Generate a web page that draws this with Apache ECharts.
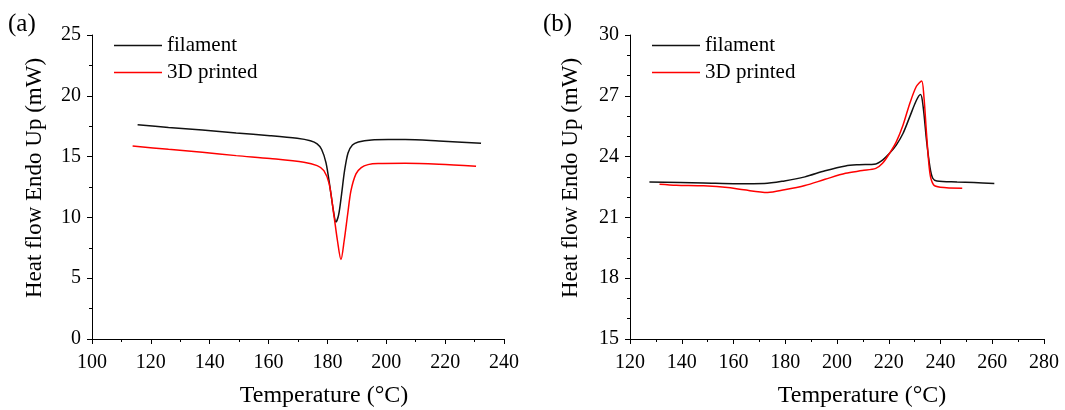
<!DOCTYPE html>
<html>
<head>
<meta charset="utf-8">
<script src="https://cdn.jsdelivr.net/npm/echarts@6/dist/echarts.min.js"></script>
<style>html,body{margin:0;padding:0;background:#fff}#c{width:1065px;height:410px}</style>
</head>
<body>
<div id="c"></div>
<script>
// Panel (a)
const aFilamentT = [115.5, 126, 137.5, 149, 160.5, 169.7, 174.2, 176.5, 178, 179.5, 180.8, 182, 182.9, 183.8, 184.8, 185.8, 187, 188.5, 190.5, 195, 200.6, 206.4, 217.9, 232.2];
const aFilamentV = [17.62, 17.4, 17.18, 16.94, 16.72, 16.5, 16.3, 16.05, 15.6, 14.5, 12.6, 10.6, 9.62, 10.2, 11.9, 13.8, 15.3, 15.95, 16.2, 16.37, 16.4, 16.4, 16.28, 16.09];
const aPrintedT = [113.8, 126, 137.5, 149, 160.5, 172, 176.5, 178.8, 180.6, 182.3, 183.4, 184.6, 185.7, 186.9, 188, 189.7, 191.5, 193.8, 197.2, 206.4, 217.9, 230.5];
const aPrintedV = [15.87, 15.6, 15.36, 15.08, 14.84, 14.54, 14.26, 13.85, 12.76, 10.0, 8.1, 6.53, 8.1, 10.3, 12.2, 13.58, 14.1, 14.34, 14.43, 14.45, 14.37, 14.2];
// Panel (b)
const bFilamentT = [127.5, 148.4, 161.4, 171.9, 179.7, 187.6, 195.4, 203.3, 208.5, 215, 217.6, 220.3, 222.9, 225.5, 228.1, 230.7, 232.3, 233.3, 234.6, 235.9, 237, 238.6, 246.4, 252.9, 260.8];
const bFilamentV = [22.75, 22.7, 22.66, 22.67, 22.8, 23.0, 23.3, 23.54, 23.6, 23.64, 23.83, 24.16, 24.57, 25.14, 25.96, 26.78, 27.06, 26.45, 24.8, 23.5, 22.93, 22.8, 22.75, 22.72, 22.67];
const bPrintedT = [131.4, 137.9, 148.4, 158.8, 164, 173.2, 179.7, 187.6, 195.4, 203.3, 209.8, 215, 217.6, 220.3, 222.9, 225.5, 228.1, 230.7, 232.7, 233.6, 234.6, 235.9, 237.3, 239.9, 248.4];
const bPrintedV = [22.64, 22.59, 22.56, 22.46, 22.36, 22.23, 22.36, 22.57, 22.88, 23.18, 23.31, 23.42, 23.67, 24.16, 24.73, 25.55, 26.61, 27.47, 27.73, 26.94, 25.14, 23.18, 22.61, 22.49, 22.44];

const seriesNames = ['filament', '3D printed'];
const panelLabels = ['(a)', '(b)'];
const xTitle = 'Temperature (°C)';
const yTitle = 'Heat flow Endo Up (mW)';

const zip = (t, v) => t.map((x, i) => [x, v[i]]);
const FONT = "'Liberation Serif', 'Times New Roman', serif";

function xAxisCfg(grid, min, max) {
  return {
    type: 'value', gridIndex: grid, min: min, max: max, interval: 20,
    axisLine: { show: true, lineStyle: { color: '#000', width: 1 } },
    axisTick: { show: true, inside: false, length: 5, lineStyle: { color: '#000' } },
    minorTick: { show: true, splitNumber: 2, length: 3, lineStyle: { color: '#000' } },
    splitLine: { show: false },
    axisLabel: { color: '#000', fontFamily: FONT, fontSize: 20, margin: 14 }
  };
}
function yAxisCfg(grid, min, max, interval, minorSplit) {
  return {
    type: 'value', gridIndex: grid, min: min, max: max, interval: interval,
    axisLine: { show: true, lineStyle: { color: '#000', width: 1 } },
    axisTick: { show: true, inside: false, length: 5, lineStyle: { color: '#000' } },
    minorTick: { show: true, splitNumber: minorSplit, length: 3, lineStyle: { color: '#000' } },
    splitLine: { show: false },
    axisLabel: { color: '#000', fontFamily: FONT, fontSize: 20, margin: 11 }
  };
}
function lineSeries(name, xi, data, color) {
  return {
    name: name, type: 'line', xAxisIndex: xi, yAxisIndex: xi, data: data,
    symbol: 'none', smooth: 0.3, lineStyle: { color: color, width: 1.5 }, itemStyle: { color: color },
    silent: true, animation: false
  };
}
function legendCfg(left) {
  return {
    left: left, top: 30, orient: 'vertical', data: seriesNames,
    icon: 'rect', itemWidth: 48, itemHeight: 1.5, itemGap: 6,
    textStyle: { color: '#000', fontFamily: FONT, fontSize: 21, lineHeight: 21 }
  };
}

const chart = echarts.init(document.getElementById('c'), null, { renderer: 'canvas' });
chart.setOption({
  backgroundColor: '#fff',
  animation: false,
  grid: [
    { left: 92, top: 35, width: 412, height: 304 },
    { left: 630, top: 35, width: 414, height: 304 }
  ],
  xAxis: [xAxisCfg(0, 100, 240), xAxisCfg(1, 120, 280)],
  yAxis: [yAxisCfg(0, 0, 25, 5, 2), yAxisCfg(1, 15, 30, 3, 3)],
  legend: [legendCfg(109), legendCfg(647)],
  series: [
    lineSeries(seriesNames[0], 0, zip(aFilamentT, aFilamentV), '#111111'),
    lineSeries(seriesNames[1], 0, zip(aPrintedT, aPrintedV), '#ff0000'),
    lineSeries(seriesNames[0], 1, zip(bFilamentT, bFilamentV), '#111111'),
    lineSeries(seriesNames[1], 1, zip(bPrintedT, bPrintedV), '#ff0000')
  ],
  graphic: [
    { type: 'text', x: 8, y: 24, style: { text: panelLabels[0], font: '25px ' + FONT, fill: '#000', align: 'left', verticalAlign: 'middle' } },
    { type: 'text', x: 543, y: 24, style: { text: panelLabels[1], font: '25px ' + FONT, fill: '#000', align: 'left', verticalAlign: 'middle' } },
    { type: 'text', x: 324, y: 396, style: { text: xTitle, font: '24px ' + FONT, fill: '#000', align: 'center', verticalAlign: 'middle' } },
    { type: 'text', x: 862, y: 396, style: { text: xTitle, font: '24px ' + FONT, fill: '#000', align: 'center', verticalAlign: 'middle' } },
    { type: 'text', x: 35, y: 178, rotation: Math.PI / 2, style: { text: yTitle, font: '23px ' + FONT, fill: '#000', align: 'center', verticalAlign: 'middle' } },
    { type: 'text', x: 571, y: 178, rotation: Math.PI / 2, style: { text: yTitle, font: '23px ' + FONT, fill: '#000', align: 'center', verticalAlign: 'middle' } }
  ]
});
</script>
</body>
</html>
